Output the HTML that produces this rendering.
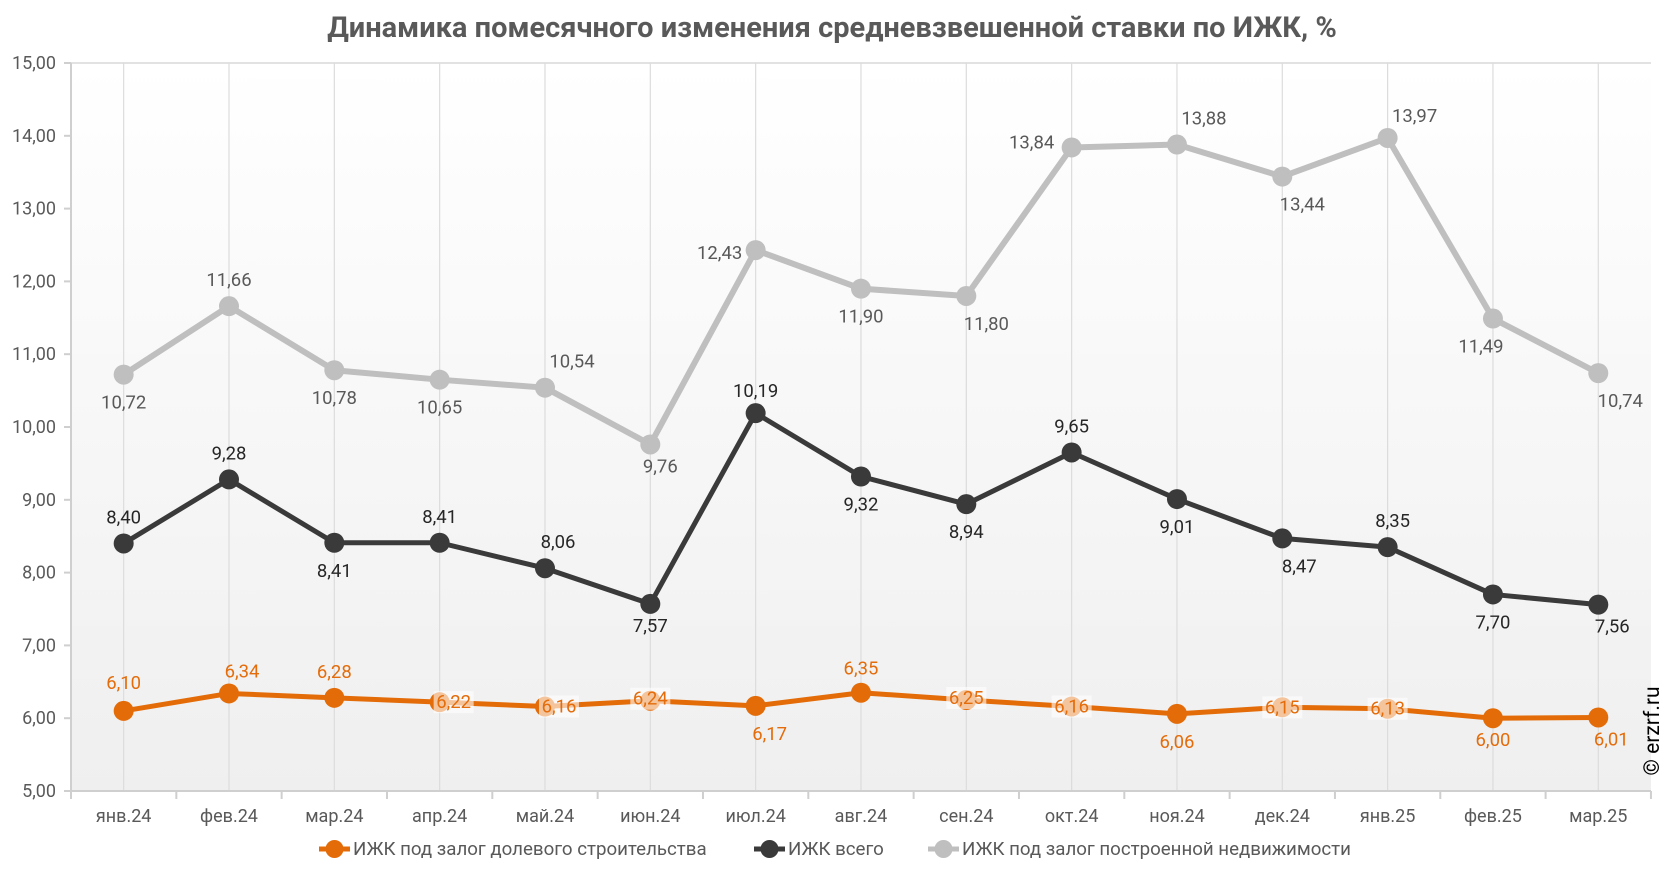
<!DOCTYPE html>
<html><head><meta charset="utf-8"><style>
html,body{margin:0;padding:0;background:#fff;}
svg{display:block;font-family:"Roboto","Liberation Sans",sans-serif;}
</style></head><body>
<svg id="c" width="1666" height="872" xmlns="http://www.w3.org/2000/svg">
<defs><linearGradient id="bg" x1="0" y1="0" x2="0" y2="1"><stop offset="0" stop-color="#ffffff"/><stop offset="1" stop-color="#efefef"/></linearGradient></defs>
<text x="832" y="37" text-anchor="middle" font-size="29" font-weight="bold" fill="#595959">Динамика помесячного изменения средневзвешенной ставки по ИЖК, %</text>
<rect x="71" y="63" width="1580" height="728" fill="url(#bg)"/>
<g id="g"></g>
</svg>
<script>
const ns="http://www.w3.org/2000/svg",g=document.getElementById('g');
function el(t,a,txt){const e=document.createElementNS(ns,t);for(const k in a)e.setAttribute(k,a[k]);if(txt!==undefined)e.textContent=txt;g.appendChild(e);return e;}
const X0=71,W=105.33,Y=v=>791-(v-5)*72.8,X=i=>X0+W*(i+0.5);
const months=["янв.24","фев.24","мар.24","апр.24","май.24","июн.24","июл.24","авг.24","сен.24","окт.24","ноя.24","дек.24","янв.25","фев.25","мар.25"];
el('line',{x1:71,y1:63,x2:1651,y2:63,stroke:'#d9d9d9','stroke-width':1.5});
for(let i=0;i<15;i++){el('line',{x1:X(i),y1:63,x2:X(i),y2:791,stroke:'#dcdcdc','stroke-width':1.2});}
el('line',{x1:71,y1:63,x2:71,y2:797,stroke:'#cfcfcf','stroke-width':2});
el('line',{x1:65,y1:791,x2:1651,y2:791,stroke:'#cfcfcf','stroke-width':2});
for(let i=0;i<=15;i++)el('line',{x1:X0+W*i,y1:791,x2:X0+W*i,y2:799,stroke:'#cfcfcf','stroke-width':2});
for(let v=5;v<=15;v++){el('line',{x1:64,y1:Y(v),x2:71,y2:Y(v),stroke:'#cfcfcf','stroke-width':2});
el('text',{x:56,y:Y(v)+6,'text-anchor':'end','font-size':18,fill:'#595959'},v+',00');}
months.forEach((m,i)=>el('text',{x:X(i),y:822,'text-anchor':'middle','font-size':18,fill:'#595959'},m));
const S=[
{c:'#bfbfbf',lc:'#595959',w:6,d:[10.72,11.66,10.78,10.65,10.54,9.76,12.43,11.90,11.80,13.84,13.88,13.44,13.97,11.49,10.74],
o:[[0,28],[0,-26],[0,28],[0,28],[27,-26],[10,22],[-36,3],[0,28],[20,28],[-40,-5],[27,-26],[20,28],[27,-22],[-12,28],[22,28]]},
{c:'#3a3a3a',lc:'#262626',w:5,d:[8.40,9.28,8.41,8.41,8.06,7.57,10.19,9.32,8.94,9.65,9.01,8.47,8.35,7.70,7.56],
o:[[0,-26],[0,-26],[0,28],[0,-26],[13,-26],[0,22],[0,-22],[0,28],[0,28],[0,-26],[0,28],[17,28],[5,-26],[0,28],[14,22]]},
{c:'#e36c09',lc:'#e46c0a',w:5,d:[6.10,6.34,6.28,6.22,6.16,6.24,6.17,6.35,6.25,6.16,6.06,6.15,6.13,6.00,6.01],
o:[[0,-28],[13,-22],[0,-26],[14,0],[14,0],[0,-2],[14,28],[0,-24],[0,-2],[0,0],[0,28],[0,0],[0,0],[0,22],[13,22]],bg:[3,4,5,8,9,11,12]}
];
S.forEach(s=>{el('polyline',{points:s.d.map((v,i)=>X(i)+','+Y(v)).join(' '),fill:'none',stroke:s.c,'stroke-width':s.w,'stroke-linejoin':'round'});
s.d.forEach((v,i)=>el('circle',{cx:X(i),cy:Y(v),r:10,fill:s.c}));});
S.forEach(s=>s.d.forEach((v,i)=>{const x=X(i)+s.o[i][0],y=Y(v)+s.o[i][1];
if(s.bg&&s.bg.includes(i))el('rect',{x:x-20,y:y-11,width:40,height:22,fill:'#fff','fill-opacity':0.6});
el('text',{x:x,y:y+6,'text-anchor':'middle','font-size':18.5,fill:s.lc},v.toFixed(2).replace('.',','));}));
const L=[[319,'#e36c09','ИЖК под залог долевого строительства'],[754,'#3a3a3a','ИЖК всего'],[928,'#bfbfbf','ИЖК под залог построенной недвижимости']];
L.forEach(([x,c,t])=>{el('line',{x1:x,y1:849,x2:x+31,y2:849,stroke:c,'stroke-width':5});el('circle',{cx:x+15.5,cy:849,r:9,fill:c});
el('text',{x:x+34,y:855,'font-size':18.7,fill:'#595959'},t);});
el('text',{x:0,y:0,transform:'translate(1659,731) rotate(-90)','text-anchor':'middle','font-size':21,fill:'#000'},'© erzrf.ru');
</script>
</body></html>
